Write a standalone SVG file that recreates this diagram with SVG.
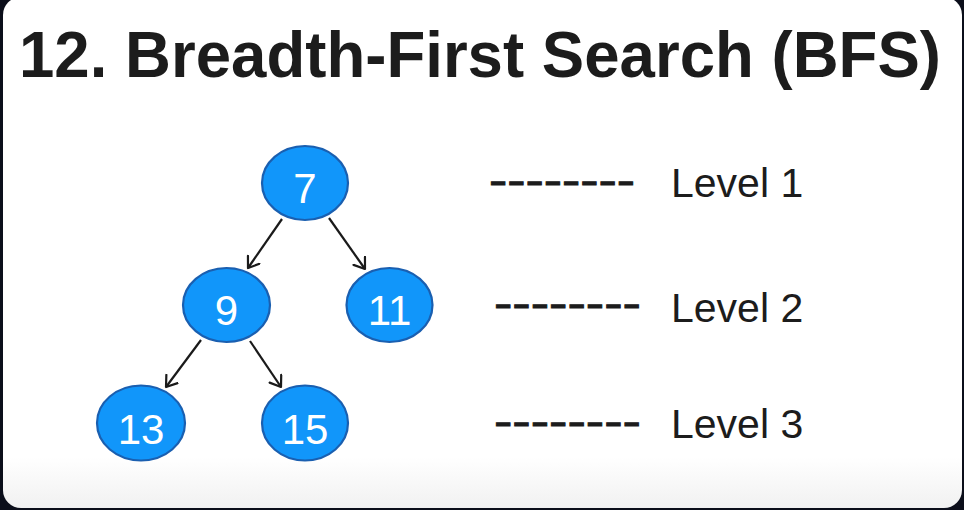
<svg xmlns="http://www.w3.org/2000/svg" width="964" height="510" viewBox="0 0 964 510">
  <style>
    .node ellipse { fill: #1196fa; stroke: #1a5fb0; stroke-width: 2.2; }
    .node text { fill: #ffffff; font-family: "Liberation Sans", Arial, sans-serif; font-size: 42px; text-anchor: middle; }
    .edge { stroke: #1a1a1a; stroke-width: 2.2; fill: none; marker-end: url(#arr); }
    .lvl { fill: #1c1c1c; font-family: "Liberation Sans", Arial, sans-serif; font-size: 41px; }
    .dash { fill: #1c1c1c; stroke: #1c1c1c; stroke-width: 0.9; font-family: "Liberation Sans", Arial, sans-serif; font-size: 41px; }
    .title { fill: #1c1c1c; font-family: "Liberation Sans", Arial, sans-serif; font-size: 65px; font-weight: bold; }
  </style>
  <defs>
    <marker id="arr" markerUnits="userSpaceOnUse" markerWidth="20" markerHeight="20" refX="11" refY="8" orient="auto">
      <path d="M1,1 L11,8 L1,15" fill="none" stroke="#1a1a1a" stroke-width="2.2" stroke-linecap="round" stroke-linejoin="round"/>
    </marker>
    <linearGradient id="card" x1="0" y1="0" x2="0" y2="1">
      <stop offset="0.9" stop-color="#ffffff"/>
      <stop offset="1" stop-color="#f1f1f1"/>
    </linearGradient>
  </defs>
  <rect x="0" y="0" width="964" height="510" fill="#0b0e1a"/>
  <rect x="3" y="-3" width="959" height="511" rx="18" ry="18" fill="url(#card)"/>

  <text class="title" x="19" y="77" textLength="922" lengthAdjust="spacingAndGlyphs">12. Breadth-First Search (BFS)</text>

  <g id="connectors">
    <line class="edge" x1="282" y1="219" x2="248" y2="268"/>
    <line class="edge" x1="329" y1="218" x2="365" y2="269"/>
    <line class="edge" x1="201" y1="340" x2="166" y2="387"/>
    <line class="edge" x1="250" y1="341" x2="281" y2="387"/>
  </g>

  <g id="node-7" class="node"><ellipse cx="305" cy="183" rx="43" ry="37"/><text x="305" y="203">7</text></g>
  <g id="node-9" class="node"><ellipse cx="226.5" cy="305" rx="43.5" ry="37"/><text x="226.5" y="325">9</text></g>
  <g id="node-11" class="node"><ellipse cx="389.5" cy="305" rx="43" ry="37"/><text x="389.5" y="325">11</text></g>
  <g id="node-13" class="node"><ellipse cx="141" cy="423" rx="44" ry="37.5"/><text x="141" y="444">13</text></g>
  <g id="node-15" class="node"><ellipse cx="305" cy="423" rx="43" ry="37.5"/><text x="305" y="444">15</text></g>

  <g id="levels">
    <text class="dash" x="489" y="194" textLength="146" lengthAdjust="spacingAndGlyphs">--------</text>
    <text class="lvl" x="671" y="197">Level 1</text>
    <text class="dash" x="494" y="317" textLength="147" lengthAdjust="spacingAndGlyphs">--------</text>
    <text class="lvl" x="671" y="322">Level 2</text>
    <text class="dash" x="494" y="435" textLength="147" lengthAdjust="spacingAndGlyphs">--------</text>
    <text class="lvl" x="671" y="438">Level 3</text>
  </g>
</svg>
